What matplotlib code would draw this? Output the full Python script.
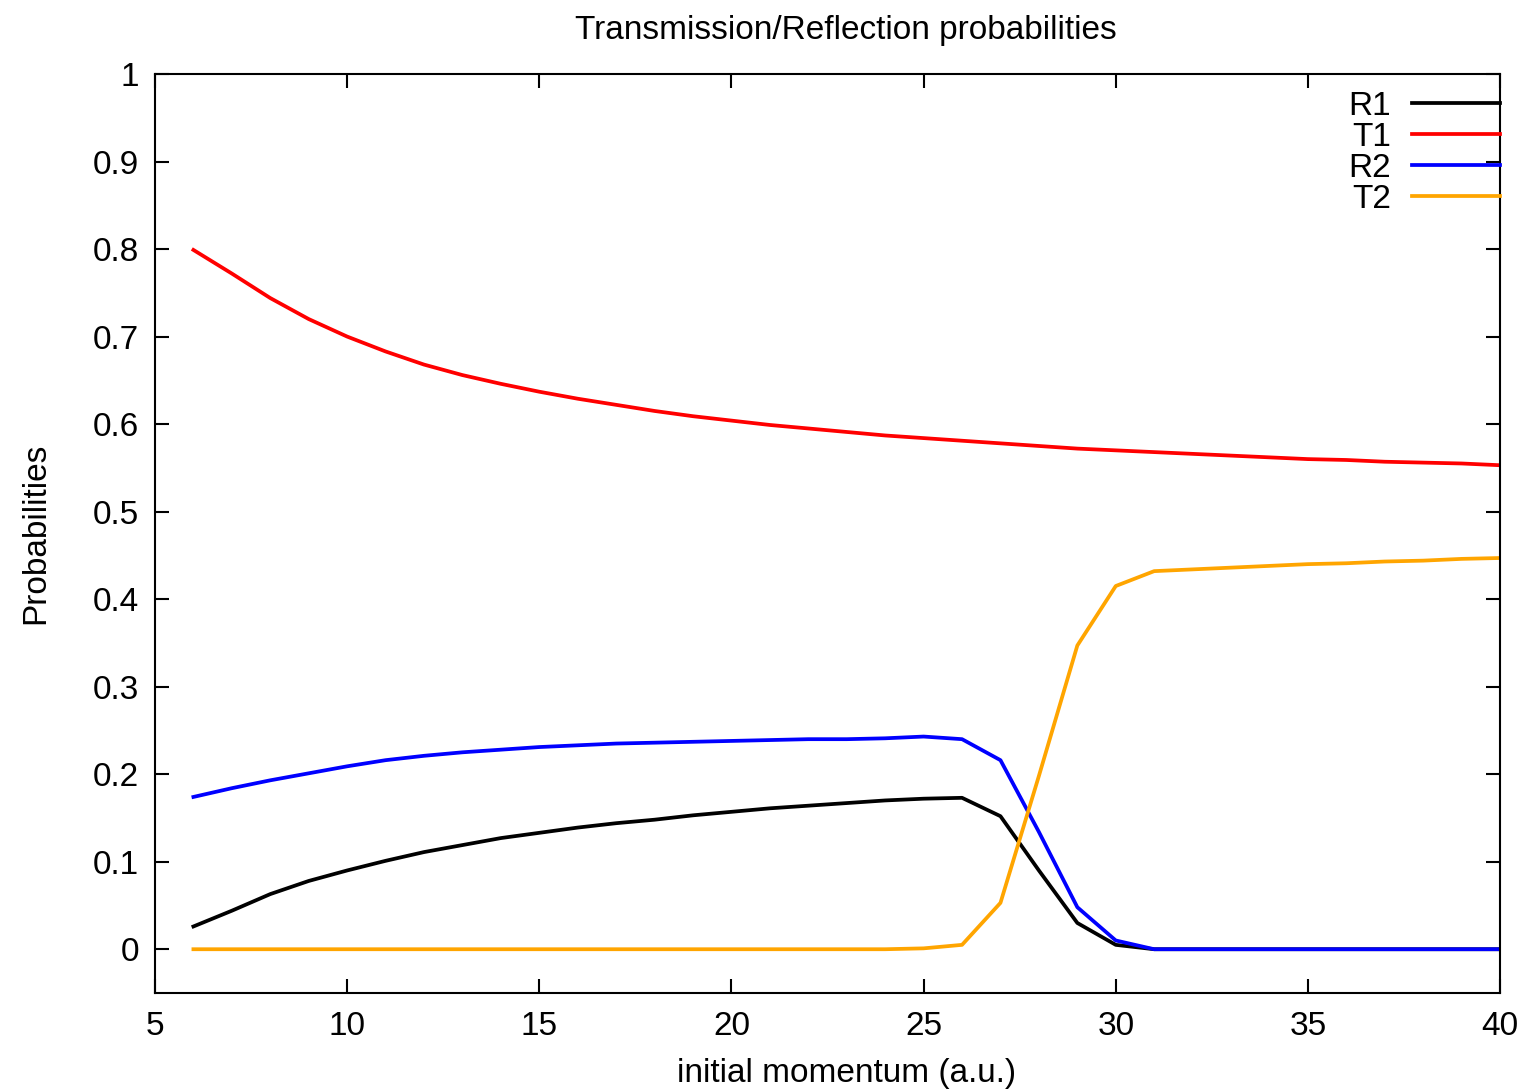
import numpy as np
import matplotlib
matplotlib.use('Agg')
import matplotlib.pyplot as plt

plt.rcParams['font.family'] = ['Liberation Sans', 'DejaVu Sans']

# initial momentum (a.u.)
momentum = list(range(6, 41))

R1 = [0.026, 0.044, 0.063, 0.078, 0.090, 0.101, 0.111, 0.119, 0.127, 0.133,
      0.139, 0.144, 0.148, 0.153, 0.157, 0.161, 0.164, 0.167, 0.170, 0.172,
      0.173, 0.152, 0.090, 0.030, 0.005, 0.0, 0.0, 0.0, 0.0, 0.0,
      0.0, 0.0, 0.0, 0.0, 0.0]
T1 = [0.799, 0.772, 0.744, 0.720, 0.700, 0.683, 0.668, 0.656, 0.646, 0.637,
      0.629, 0.622, 0.615, 0.609, 0.604, 0.599, 0.595, 0.591, 0.587, 0.584,
      0.581, 0.578, 0.575, 0.572, 0.570, 0.568, 0.566, 0.564, 0.562, 0.560,
      0.559, 0.557, 0.556, 0.555, 0.553]
R2 = [0.174, 0.184, 0.193, 0.201, 0.209, 0.216, 0.221, 0.225, 0.228, 0.231,
      0.233, 0.235, 0.236, 0.237, 0.238, 0.239, 0.240, 0.240, 0.241, 0.243,
      0.240, 0.216, 0.134, 0.048, 0.010, 0.0, 0.0, 0.0, 0.0, 0.0,
      0.0, 0.0, 0.0, 0.0, 0.0]
T2 = [0.0, 0.0, 0.0, 0.0, 0.0, 0.0, 0.0, 0.0, 0.0, 0.0,
      0.0, 0.0, 0.0, 0.0, 0.0, 0.0, 0.0, 0.0, 0.0, 0.001,
      0.005, 0.053, 0.198, 0.347, 0.415, 0.432, 0.434, 0.436, 0.438, 0.440,
      0.441, 0.443, 0.444, 0.446, 0.447]

fig = plt.figure(figsize=(15.24, 10.9), dpi=100)
ax = fig.add_axes([0.1017, 0.089, 0.8826, 0.8431])

lw = 2.7
ax.plot(momentum, R1, color='black', lw=lw, label='R1')
ax.plot(momentum, T1, color='red', lw=lw, label='T1')
ax.plot(momentum, R2, color='blue', lw=lw, label='R2')
ax.plot(momentum, T2, color='orange', lw=lw, label='T2')

ax.set_xlim(5, 40)
ax.set_ylim(-0.05, 1)
ax.set_xticks(np.arange(5, 41, 5))
ax.set_yticks(np.arange(0, 1.01, 0.1))
ax.set_yticklabels(['0', '0.1', '0.2', '0.3', '0.4', '0.5', '0.6', '0.7', '0.8', '0.9', '1'])
ax.tick_params(direction='in', length=10, width=1.5, labelsize=24,
               top=True, right=True)
ax.tick_params(axis='x', pad=13)
ax.tick_params(axis='y', pad=11.5)
for s in ax.spines.values():
    s.set_linewidth(1.5)

ax.set_title('Transmission/Reflection probabilities', fontsize=24, pad=25, x=0.514)
ax.set_xlabel('initial momentum (a.u.)', fontsize=24, labelpad=11.5)
ax.xaxis.label.set_x(0.514)
ax.set_ylabel('Probabilities', fontsize=24, labelpad=30)

ax.legend(loc='upper right', bbox_to_anchor=(1.0, 0.9816), frameon=False,
          markerfirst=False, fontsize=24, handlelength=2.64, labelspacing=0.0,
          handletextpad=0.64, borderaxespad=0, borderpad=0)

fig.savefig('out.png', dpi=100)
